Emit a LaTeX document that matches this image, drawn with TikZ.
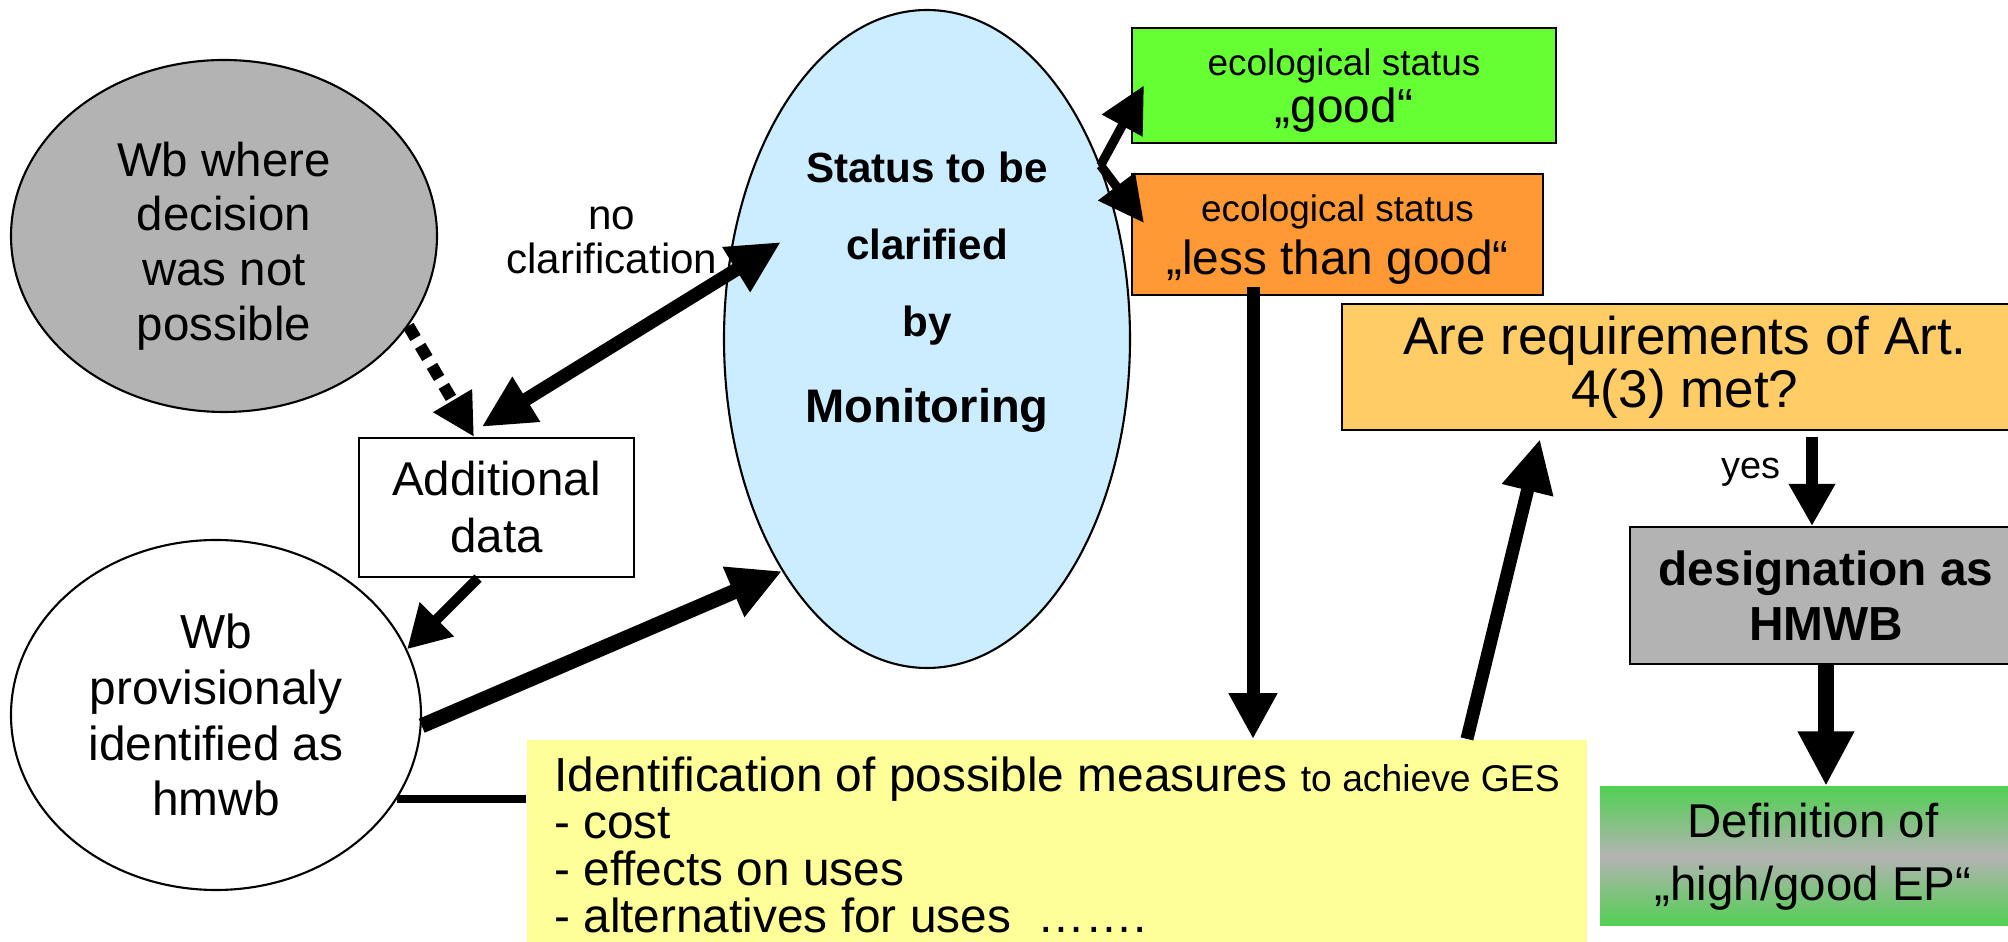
\documentclass[tikz,border=0pt]{standalone}
\usepackage{fontspec}
\setmainfont{Liberation Sans}
\usepackage{tikz}
\usetikzlibrary{shapes.geometric,arrows.meta}

\definecolor{greyfill}{RGB}{179,179,179}
\definecolor{skyfill}{RGB}{204,236,255}
\definecolor{goodfill}{RGB}{102,255,51}
\definecolor{lessfill}{RGB}{255,153,51}
\definecolor{reqfill}{RGB}{255,204,102}
\definecolor{measfill}{RGB}{255,255,153}
\definecolor{epgreen}{RGB}{82,208,82}

\begin{document}
\begin{tikzpicture}[scale=1,
  >={Triangle[length=13pt,width=13pt]},
  oval/.style={ellipse,draw,line width=0.6pt,inner sep=0pt,align=center},
  box/.style={rectangle,draw,line width=0.6pt,inner sep=0pt,align=center},
  bighead/.style={>={Triangle[length=15pt,width=14pt]}}]
\useasboundingbox (0,0) rectangle (20.08,-9.42);
\clip (0,0) rectangle (20.08,-9.42);

\node[oval,fill=greyfill,minimum width=4.26cm,minimum height=3.52cm,text height=2.19cm,font={\fontsize{13.5}{15.6}\selectfont}] (1) at (2.24,-2.36) {Wb where\\ decision\\ was not\\ possible};

\node[box,minimum width=2.75cm,minimum height=1.39cm,font={\fontsize{13.5}{16.2}\selectfont}] (2) at (4.965,-5.075) {Additional\\ data};

\node[oval,minimum width=4.10cm,minimum height=3.50cm,font={\fontsize{13.6}{15.9}\selectfont}] (3) at (2.16,-7.15) {Wb\\ provisionaly\\ identified as\\ hmwb};

\node[oval,fill=skyfill,minimum width=4.06cm,minimum height=6.58cm,text depth=1.03cm,font={\fontsize{12}{21.9}\selectfont\bfseries}] (4) at (9.27,-3.39) {Status to be\\ clarified\\ by\\[0.09cm] {\fontsize{13.4}{21.9}\selectfont Monitoring}};

\node[box,fill=goodfill,minimum width=4.24cm,minimum height=1.15cm,text depth=0pt,font={\fontsize{10.5}{13.5}\selectfont}] (5) at (13.44,-0.855) {ecological status\\ {\fontsize{13.6}{13.5}\selectfont „good“}};

\node[box,fill=lessfill,minimum width=4.11cm,minimum height=1.21cm,text depth=0pt,font={\fontsize{10.5}{15}\selectfont}] (6) at (13.375,-2.345) {ecological status\\ {\fontsize{13.6}{15}\selectfont „less than good“}};

\node[box,draw=none,fill=measfill,minimum width=10.6cm,minimum height=2.1cm,align=left,font={\fontsize{13.6}{13.4}\selectfont}] (7) at (10.57,-8.45) {Identification of possible measures {\fontsize{10.6}{13.4}\selectfont to achieve GES}\\ - cost\\ - effects on uses\\ - alternatives for uses\ \ …….};

\node[box,fill=reqfill,minimum width=6.86cm,minimum height=1.26cm,font={\fontsize{15.1}{15.1}\selectfont}] (8) at (16.85,-3.67) {Are requirements of Art.\\ 4(3) met?};

\node[box,fill=greyfill,minimum width=3.92cm,minimum height=1.37cm,font={\fontsize{13.6}{15.6}\selectfont\bfseries}] (9) at (18.26,-5.955) {designation as\\ HMWB};

\node[box,draw=none,top color=epgreen,bottom color=epgreen,middle color=greyfill,minimum width=4.26cm,minimum height=1.39cm,font={\fontsize{13.5}{17.9}\selectfont}] (10) at (18.13,-8.565) {Definition of\\ „high/good EP“};


\draw[->,line width=3.4pt,dash pattern=on 4pt off 2.6pt,>={Triangle[length=12pt,width=12pt]}] (1.-26) -- ([xshift=-2.25mm]2.north) ;
\draw[<->,line width=3.8pt,bighead] ([xshift=-1.5mm,yshift=1mm]2.north) -- ([shift={(-1.46,0.97)}]4.center) node[pos=.8,anchor=south east,inner sep=0pt,xshift=0.03cm,yshift=-0.02cm,font={\fontsize{12}{12.5}\selectfont},align=center] {no\\ clarification} ;
\draw[->,line width=2.9pt,>={Triangle[length=12pt,width=13pt]}] ([xshift=-1.85mm]2.south) -- (3.19.5) ;
\draw[->,line width=4.3pt,>={Triangle[length=15pt,width=14.5pt]}] (3.-3) -- (4.238) ;
\draw[-,line width=2.2pt] (3.-25.7) -- (3.-25.7 -| 7.west) ;
\draw[->,line width=2.6pt,>={Triangle[length=13pt,width=12.5pt]}] (4.45) -- ([xshift=1.3mm]5.west) ;
\draw[->,line width=2.6pt,>={Triangle[length=13pt,width=12.5pt]}] (4.45) -- ([xshift=1.3mm,yshift=1.15mm]6.west) ;
\draw[->,line width=3.7pt] ([xshift=-8.45mm,yshift=0.9mm]6.south) -- ([xshift=-8.45mm]6.south |- 7.north) ;
\draw[->,line width=3.7pt,bighead] ([xshift=41mm]7.north) -- ([xshift=-14.5mm,yshift=-0.8mm]8.south) ;
\draw[->,line width=3.4pt,>={Triangle[length=12pt,width=12.5pt]}] ([xshift=12.7mm,yshift=-0.6mm]8.south) -- ([xshift=12.7mm]8.south |- 9.north) node[pos=.4,left,xshift=-1.4mm,font={\fontsize{10.8}{12}\selectfont}] {yes} ;
\draw[->,line width=4.8pt,>={Triangle[length=15.5pt,width=15pt]}] (9.south) -- (9.south |- 10.north) ;
\end{tikzpicture}
\end{document}
